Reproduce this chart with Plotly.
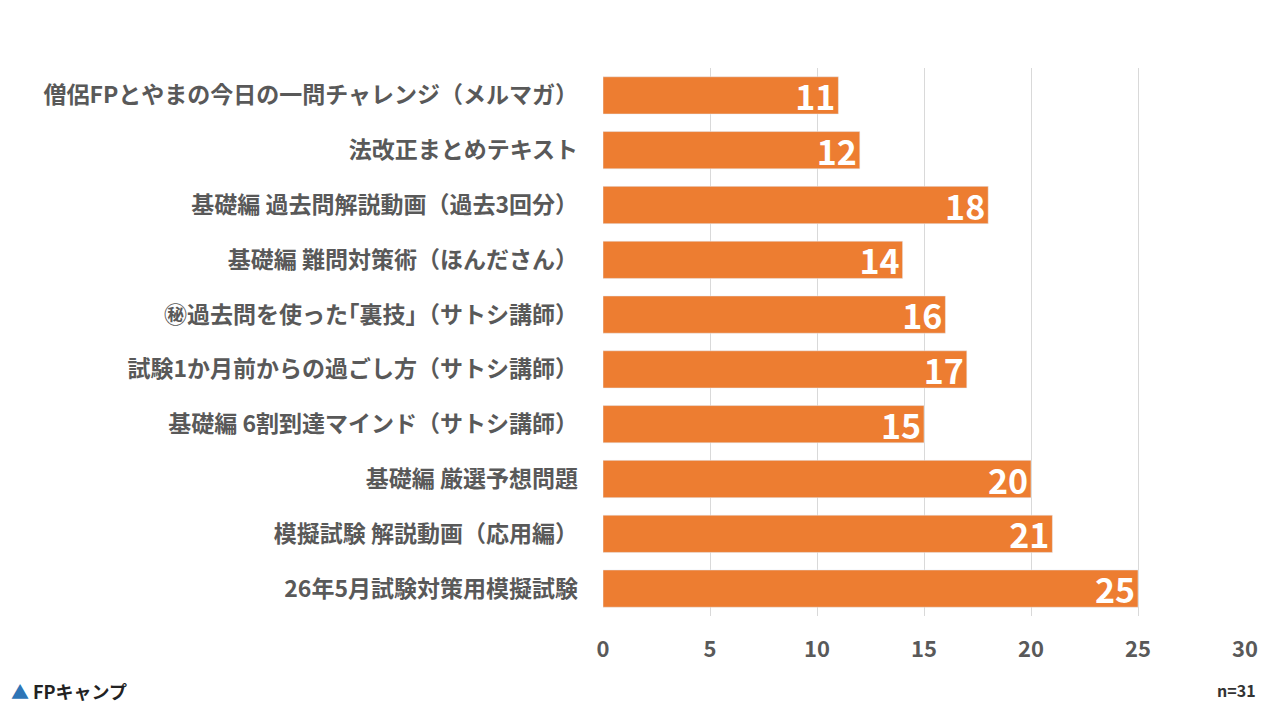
import plotly.graph_objects as go

categories = [
    "僧侶FPとやまの今日の一問チャレンジ（メルマガ）",
    "法改正まとめテキスト",
    "基礎編 過去問解説動画（過去3回分）",
    "基礎編 難問対策術（ほんださん）",
    "㊙過去問を使った｢裏技｣（サトシ講師）",
    "試験1か月前からの過ごし方（サトシ講師）",
    "基礎編 6割到達マインド（サトシ講師）",
    "基礎編 厳選予想問題",
    "模擬試験 解説動画（応用編）",
    "26年5月試験対策用模擬試験",
]
values = [11, 12, 18, 14, 16, 17, 15, 20, 21, 25]
x_ticks = [0, 5, 10, 15, 20, 25, 30]

font = "Noto Sans CJK JP"
gray = "#595959"

fig = go.Figure(
    go.Bar(
        y=categories,
        x=values,
        orientation="h",
        marker_color="#ED7D31",
        width=0.68,
        text=values,
        textposition="inside",
        textangle=0,
        insidetextanchor="end",
        textfont=dict(family=font, size=34, color="white", weight="bold"),
        cliponaxis=False,
    )
)

fig.update_layout(
    width=1280,
    height=720,
    paper_bgcolor="white",
    plot_bgcolor="white",
    margin=dict(l=595, r=43, t=60, b=112),
    showlegend=False,
    uniformtext=dict(minsize=34, mode="show"),
    font=dict(family=font, color=gray),
    xaxis=dict(
        range=[0, 30],
        tickvals=x_ticks,
        showgrid=True,
        gridcolor="#D9D9D9",
        zeroline=False,
        tickfont=dict(size=22, color=gray, weight="bold"),
        ticks="",
        ticklabelstandoff=18,
        automargin=False,
    ),
    yaxis=dict(
        autorange="reversed",
        tickfont=dict(size=23, color=gray, weight="bold"),
        ticks="",
        ticklabelstandoff=24,
        showline=False,
        automargin=False,
    ),
)

fig.add_annotation(
    text="n=31", xref="paper", yref="paper", x=1.02, y=-0.16,
    xanchor="right", showarrow=False,
    font=dict(family=font, size=16, color="#333333", weight="bold"),
)
fig.add_annotation(
    text="<b><span style='color:#2E75B6'>▲</span> FPキャンプ</b>",
    xref="paper", yref="paper", x=-0.925, y=-0.165,
    xanchor="left", showarrow=False,
    font=dict(family=font, size=18, color="#222222"),
)

fig.write_html("out.html")
